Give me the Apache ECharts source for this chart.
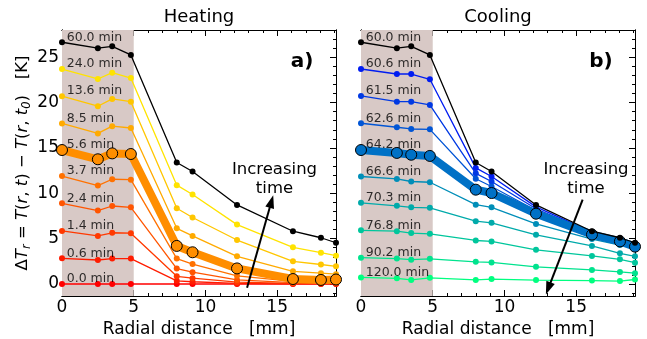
<!DOCTYPE html>
<html>
<head>
<meta charset="utf-8">
<script src="https://cdn.jsdelivr.net/npm/echarts@6/dist/echarts.min.js"></script>
<style>html,body{margin:0;padding:0;background:#fff}#c{width:647px;height:339px}</style>
</head>
<body>
<div id="c"></div>
<script>
// ---- data ----
const radius = [0, 2.5, 3.5, 4.8, 8, 9.1, 12.2, 16.1, 18.05, 19.1];
const xTicks = [0, 5, 10, 15];
const yTicks = [0, 5, 10, 15, 20, 25];
const xMinorTicks = [0,1,2,3,4,5,6,7,8,9,10,11,12,13,14,15,16,17,18,19];
const yMinorTicks = [-1,0,1,2,3,4,5,6,7,8,9,10,11,12,13,14,15,16,17,18,19,20,21,22,23,24,25,26,27,28];

const heatTimes = ['0.0', '0.6', '1.4', '2.4', '3.7', '5.6', '8.5', '13.6', '24.0', '60.0'];
const heat_0_0  = [0, 0, 0, 0, 0, 0, 0, 0, 0, 0];
const heat_0_6  = [2.83, 2.65, 2.8, 2.8, 0.35, 0.25, 0.07, 0.03, 0.02, 0.02];
const heat_1_4  = [5.85, 5.3, 5.65, 5.6, 0.85, 0.65, 0.2, 0.08, 0.07, 0.07];
const heat_2_4  = [8.9, 8.1, 8.6, 8.45, 1.7, 1.3, 0.45, 0.15, 0.14, 0.14];
const heat_3_7  = [11.9, 10.85, 11.55, 11.5, 2.8, 2.2, 0.9, 0.3, 0.28, 0.3];
const heat_5_6  = [14.77, 13.75, 14.4, 14.33, 4.2, 3.5, 1.72, 0.55, 0.45, 0.5];
const heat_8_5  = [17.7, 16.6, 17.4, 17.2, 6.14, 5.3, 3.05, 1.4, 1.2, 1.08];
const heat_13_6 = [20.7, 19.6, 20.4, 20.1, 8.35, 7.33, 4.85, 2.5, 2.15, 1.95];
const heat_24_0 = [23.7, 22.6, 23.3, 22.7, 10.9, 9.87, 6.55, 4.05, 3.45, 3.12];
const heat_60_0 = [26.65, 26.0, 26.2, 25.25, 13.4, 12.4, 8.72, 5.82, 5.1, 4.55];

const coolTimes = ['60.0', '60.6', '61.5', '62.6', '64.2', '66.6', '70.3', '76.8', '90.2', '120.0'];
const cool_60_0  = [26.65, 26.0, 26.2, 25.25, 13.4, 12.4, 8.72, 5.82, 5.1, 4.55];
const cool_60_6  = [23.7, 23.15, 23.15, 22.57, 12.8, 11.85, 8.5, 5.72, 4.95, 4.45];
const cool_61_5  = [20.73, 20.1, 20.1, 19.74, 12.2, 11.3, 8.3, 5.65, 4.88, 4.38];
const cool_62_6  = [17.72, 17.28, 17.09, 17.05, 11.6, 10.75, 8.1, 5.6, 4.82, 4.3];
const cool_64_2  = [14.77, 14.45, 14.25, 14.12, 10.4, 10.03, 7.75, 5.45, 4.7, 4.12];
const cool_66_6  = [11.85, 11.58, 11.3, 11.22, 8.75, 8.45, 6.62, 4.95, 4.3, 3.9];
const cool_70_3  = [8.95, 8.62, 8.45, 8.4, 6.93, 6.75, 5.42, 4.2, 3.38, 3.05];
const cool_76_8  = [5.92, 5.82, 5.62, 5.53, 4.8, 4.7, 3.77, 3.1, 2.72, 2.35];
const cool_90_2  = [2.9, 2.8, 2.68, 2.78, 2.45, 2.38, 1.9, 1.55, 1.33, 1.2];
const cool_120_0 = [0.73, 0.63, 0.45, 0.68, 0.45, 0.55, 0.44, 0.38, 0.33, 0.5];

const heatArrow = [[12.9, -0.4], [14.6, 9.1]];
const coolArrow = [[15.45, 9.3], [13.05, -0.5]];
const shadedRange = [0, 5];

// ---- styling / build ----
const FONT = '"DejaVu Sans", sans-serif';
const xMax = 19.1, yMin = -1.32, yMax = 28.0;
const heatSeriesData = [heat_0_0, heat_0_6, heat_1_4, heat_2_4, heat_3_7, heat_5_6, heat_8_5, heat_13_6, heat_24_0, heat_60_0];
const coolSeriesData = [cool_60_0, cool_60_6, cool_61_5, cool_62_6, cool_64_2, cool_66_6, cool_70_3, cool_76_8, cool_90_2, cool_120_0];

function hex(r,g,b){return '#'+[r,g,b].map(v=>Math.round(v).toString(16).padStart(2,'0')).join('');}
function autumn(t){return hex(255, 255*t, 0);}
function winter(t){return hex(0, 255*t, 255*(1-0.5*t));}

const heatColors = heatTimes.map((t,i)=> i===9 ? '#000000' : autumn(i/9));
const coolColors = coolTimes.map((t,i)=> i===0 ? '#000000' : winter(i/9));

const grids = [
  {left: 62, top: 30, width: 274, height: 266, containLabel: false, outerBoundsMode: 'none'},
  {left: 361, top: 30, width: 274, height: 266, containLabel: false, outerBoundsMode: 'none'}
];

const xAxes = [], yAxes = [];
grids.forEach((g, gi) => {
  const common = {type: 'value', gridIndex: gi, min: 0, max: xMax, splitLine: {show: false},
    axisLine: {show: true, onZero: false, lineStyle: {color: '#000', width: 1}}};
  xAxes.push(Object.assign({}, common, {position: 'bottom',
    axisTick: {show: true, inside: true, length: 6, customValues: xTicks, lineStyle: {color: '#000', width: 1}},
    axisLabel: {show: true, customValues: xTicks, margin: 3, fontSize: 17, color: '#000', fontFamily: FONT},
    name: 'Radial distance   [mm]', nameLocation: 'middle', nameGap: 22,
    nameTextStyle: {fontSize: 17, color: '#000', fontFamily: FONT}}));
  xAxes.push(Object.assign({}, common, {position: 'bottom',
    axisTick: {show: true, inside: true, length: 3, customValues: xMinorTicks, lineStyle: {color: '#000', width: 1}},
    axisLabel: {show: false}}));
  xAxes.push(Object.assign({}, common, {position: 'top',
    axisTick: {show: true, inside: true, length: 6, customValues: xTicks, lineStyle: {color: '#000', width: 1}},
    axisLabel: {show: false}}));
  xAxes.push(Object.assign({}, common, {position: 'top',
    axisTick: {show: true, inside: true, length: 3, customValues: xMinorTicks, lineStyle: {color: '#000', width: 1}},
    axisLabel: {show: false}}));

  const ycommon = {type: 'value', gridIndex: gi, min: yMin, max: yMax, splitLine: {show: false},
    axisLine: {show: true, onZero: false, lineStyle: {color: '#000', width: 1}}};
  const yLeft = Object.assign({}, ycommon, {position: 'left',
    axisTick: {show: true, inside: true, length: 6, customValues: yTicks, lineStyle: {color: '#000', width: 1}},
    axisLabel: {show: gi === 0, customValues: yTicks, margin: 3, fontSize: 17, color: '#000', fontFamily: FONT}});
  if (gi === 0) {
    yLeft.name = '{n|Δ}{i|T}{s|r}{n| = }{i|T}{n|(}{i|r}{n|, }{i|t}{n|) − }{i|T}{n|(}{i|r}{n|, }{i|t}{s|0}{n|)   [K]}';
    yLeft.nameLocation = 'middle';
    yLeft.nameGap = 25;
    yLeft.nameTextStyle = {fontSize: 16.5, color: '#000', fontFamily: FONT,
      rich: {
        n: {fontSize: 16.5, fontFamily: FONT, color: '#000', lineHeight: 22},
        i: {fontSize: 16.5, fontFamily: FONT, fontStyle: 'italic', color: '#000', lineHeight: 22},
        s: {fontSize: 11.5, fontFamily: FONT, fontStyle: 'italic', color: '#000', lineHeight: 12, verticalAlign: 'bottom'}
      }};
  }
  yAxes.push(yLeft);
  yAxes.push(Object.assign({}, ycommon, {position: 'left',
    axisTick: {show: true, inside: true, length: 3, customValues: yMinorTicks, lineStyle: {color: '#000', width: 1}},
    axisLabel: {show: false}}));
  yAxes.push(Object.assign({}, ycommon, {position: 'right',
    axisTick: {show: true, inside: true, length: 6, customValues: yTicks, lineStyle: {color: '#000', width: 1}},
    axisLabel: {show: false}}));
  yAxes.push(Object.assign({}, ycommon, {position: 'right',
    axisTick: {show: true, inside: true, length: 3, customValues: yMinorTicks, lineStyle: {color: '#000', width: 1}},
    axisLabel: {show: false}}));
});

const series = [];
function addPanel(gi, times, dataSets, colors, highlightIdx, blackIdx, arrow) {
  const xi = gi * 4, yi = gi * 4;
  // shaded region
  series.push({type: 'line', xAxisIndex: xi, yAxisIndex: yi, z: 0, silent: true,
    data: [[shadedRange[0], 0]], symbolSize: 0, lineStyle: {opacity: 0},
    markArea: {silent: true, itemStyle: {color: '#d8c9c6', opacity: 1},
      data: [[{xAxis: shadedRange[0]}, {xAxis: shadedRange[1]}]]}});
  dataSets.forEach((d, i) => {
    const hl = i === highlightIdx;
    const isBlack = i === blackIdx;
    series.push({
      type: 'line', name: times[i] + ' min', xAxisIndex: xi, yAxisIndex: yi,
      z: isBlack ? 4 : (hl ? 3 : 2),
      data: radius.map((r, k) => [r, d[k]]),
      symbol: 'circle', symbolSize: hl ? 11 : 6, showSymbol: true, showAllSymbol: true,
      lineStyle: {color: colors[i], width: hl ? 8 : 1.3},
      itemStyle: {color: colors[i], borderColor: hl ? '#000' : colors[i], borderWidth: hl ? 1 : 0},
      emphasis: {disabled: true}, silent: true
    });
  });
  // time labels + arrow
  series.push({
    type: 'scatter', xAxisIndex: xi, yAxisIndex: yi, z: 6, silent: true,
    symbolSize: 0,
    data: dataSets.map((d, i) => ({value: [0.33, d[0] + 0.55], name: times[i] + ' min'})),
    label: {show: true, position: 'right', distance: 0, formatter: '{b}',
      fontSize: 12.5, fontFamily: FONT, color: '#000'},
    markLine: {silent: true, symbol: ['none', 'triangle'], symbolSize: [9, 13],
      lineStyle: {color: '#000', width: 2, type: 'solid'}, label: {show: false},
      data: [[{coord: arrow[0]}, {coord: arrow[1]}]]}
  });
}
addPanel(0, heatTimes, heatSeriesData, heatColors, 5, 9, heatArrow);
addPanel(1, coolTimes, coolSeriesData, coolColors, 4, 0, coolArrow);

const txt = (x, y, text, size, weight, extra) => ({type: 'text', x, y, z: 100, silent: true,
  style: Object.assign({text, fontSize: size, fontFamily: FONT, fontWeight: weight || 'normal', fill: '#000',
    align: 'center', verticalAlign: 'middle'}, extra || {})});

const option = {
  animation: false,
  backgroundColor: '#fff',
  grid: grids,
  xAxis: xAxes,
  yAxis: yAxes,
  series,
  graphic: [
    txt(199, 17, 'Heating', 18),
    txt(498, 17, 'Cooling', 18),
    txt(302, 62, 'a)', 20, 'bold'),
    txt(601, 62, 'b)', 20, 'bold'),
    txt(274.5, 179, 'Increasing\ntime', 16.5, 'normal', {lineHeight: 19}),
    txt(586, 179, 'Increasing\ntime', 16.5, 'normal', {lineHeight: 19})
  ]
};
const chart = echarts.init(document.getElementById('c'), null, {renderer: 'canvas'});
chart.setOption(option);
</script>
</body>
</html>
